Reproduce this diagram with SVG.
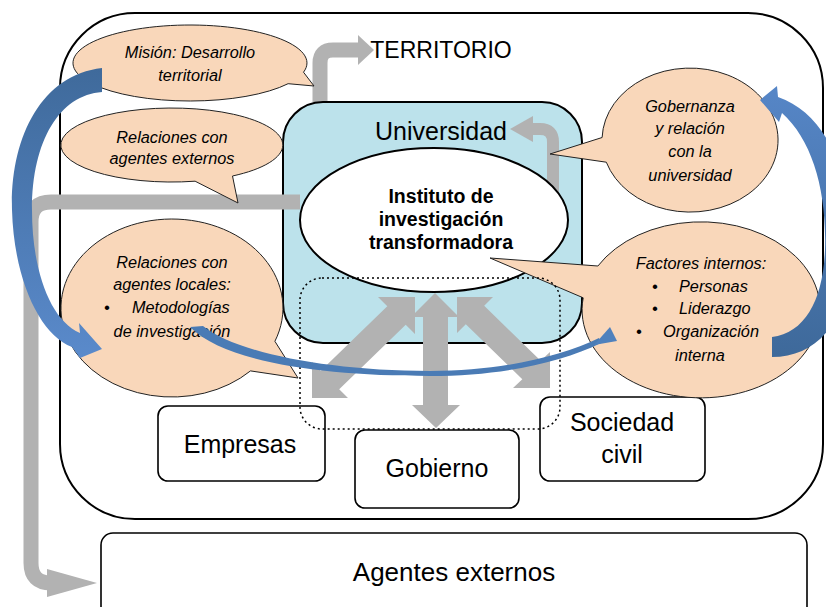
<svg xmlns="http://www.w3.org/2000/svg" width="826" height="607" viewBox="0 0 826 607">
<style>
.box{fill:#fff;stroke:#000;stroke-width:1.6}
.bub{fill:#F9D7BA;stroke:#222;stroke-width:1}
.gr{fill:#B2B2B2}
.grl{fill:none;stroke:#B2B2B2;stroke-width:15}
.t{font-family:"Liberation Sans",Arial,sans-serif;fill:#000}
.big{font-size:25px}
.it{font-size:16.3px;font-style:italic}
.bd{font-size:19.5px;font-weight:bold}
</style>
<defs>
<linearGradient id="bl1" x1="0" y1="0" x2="0" y2="1"><stop offset="0" stop-color="#3F6A9B"/><stop offset="1" stop-color="#5A8ACB"/></linearGradient>
<linearGradient id="bl2" x1="0" y1="1" x2="0" y2="0"><stop offset="0" stop-color="#3E699A"/><stop offset="1" stop-color="#5686C7"/></linearGradient>
</defs>
<g id="territorio">
<rect x="60" y="13" width="763" height="506" rx="75" fill="#fff" stroke="#000" stroke-width="2"/>
<text class="t" x="441" y="58" text-anchor="middle" font-size="23">TERRITORIO</text>
</g>
<g id="connectors-back">
<path class="grl" d="M320,102 L320,63 Q320,50 333,50 L359,50"/>
<polygon class="gr" points="358,35 374,50 358,65"/>
</g>
<g id="universidad">
<rect x="283" y="102" width="299" height="241" rx="40" fill="#BCE2EB" stroke="#000" stroke-width="2"/>
<text class="t big" x="441" y="140" text-anchor="middle">Universidad</text>
</g>
<g id="connectors-uni">
<path d="M553,205 L553,142 Q553,129 540,129 L531,129" fill="none" stroke="#B2B2B2" stroke-width="12"/>
<polygon class="gr" points="533,116 510,129 533,142"/>
</g>
<g id="instituto">
<ellipse cx="434" cy="220" rx="134" ry="72" fill="#fff" stroke="#000" stroke-width="2"/>
<text class="t bd" x="441" y="203" text-anchor="middle">Instituto de</text>
<text class="t bd" x="441" y="226" text-anchor="middle">investigación</text>
<text class="t bd" x="441" y="249" text-anchor="middle">transformadora</text>
</g>
<g id="connectors">
<polygon class="gr" points="415,297 415,334 405.7,324.7 339.2,389.2 348,398 312,398 312,362 320.8,370.8 387.3,306.3 378,297"/>
<polygon class="gr" points="457,297 493,297 484.2,305.8 540.7,360.8 550,352 550,388 513,388 522.3,379.2 465.8,324.2 457,333"/>
<polygon class="gr" points="435,293 459,317 448,317 448,405 460,405 436,428 412,405 423,405 423,317 411,317"/>
<path class="grl" d="M300,202 L51,202 Q31,202 31,222 L31,563 Q31,583 51,583 L50,583"/>
<polygon class="gr" points="47,569 97,583 47,597"/>
</g>
<g id="empresas">
<rect class="box" x="158" y="406" width="167" height="75" rx="10"/>
<text class="t big" x="240" y="453" text-anchor="middle">Empresas</text>
</g>
<g id="gobierno">
<rect class="box" x="355" y="430" width="164" height="78" rx="10"/>
<text class="t big" x="437" y="477" text-anchor="middle">Gobierno</text>
</g>
<g id="sociedad">
<rect class="box" x="540" y="397" width="165" height="84" rx="10"/>
<text class="t big" x="622" y="431" text-anchor="middle">Sociedad</text>
<text class="t big" x="622" y="463" text-anchor="middle">civil</text>
</g>
<g id="agentes">
<rect class="box" x="101" y="533" width="706" height="95" rx="12"/>
<text class="t" x="454" y="581" text-anchor="middle" font-size="26">Agentes externos</text>
</g>
<g id="mision">
<path class="bub" d="M303.5,72.2 A117,38 0 1 0 288.1,83.7 L314,86 Z"/>
<text class="t it" x="190" y="58" text-anchor="middle">Misión: Desarrollo</text>
<text class="t it" x="190" y="81" text-anchor="middle">territorial</text>
</g>
<g id="rel-externos">
<path class="bub" d="M232.5,176 A111,37 0 1 0 195.1,181.2 L238,203 Z"/>
<text class="t it" x="172" y="143" text-anchor="middle">Relaciones con</text>
<text class="t it" x="172" y="164" text-anchor="middle">agentes externos</text>
</g>
<g id="rel-locales">
<path class="bub" d="M274.9,341.3 A111,89 0 1 0 250.5,370.9 L298,378 Z"/>
<text class="t it" x="172" y="268" text-anchor="middle">Relaciones con</text>
<text class="t it" x="172" y="290" text-anchor="middle">agentes locales:</text>
<text class="t it" x="104" y="313">•</text>
<text class="t it" x="132" y="313">Metodologías</text>
<text class="t it" x="172" y="337" text-anchor="middle">de investigación</text>
</g>
<g id="gobernanza">
<path class="bub" d="M606.3,162.2 A88,72 0 1 0 602.1,137.5 L550,154 Z"/>
<text class="t it" x="690" y="112" text-anchor="middle">Gobernanza</text>
<text class="t it" x="690" y="134" text-anchor="middle">y relación</text>
<text class="t it" x="690" y="157" text-anchor="middle">con la</text>
<text class="t it" x="690" y="181" text-anchor="middle">universidad</text>
</g>
<g id="factores">
<path class="bub" d="M583.2,297.8 A119,88 0 1 0 597.9,266 L490,258 Z"/>
<text class="t it" x="701" y="269" text-anchor="middle">Factores internos:</text>
<text class="t it" x="652" y="292">•</text>
<text class="t it" x="679" y="292">Personas</text>
<text class="t it" x="652" y="314">•</text>
<text class="t it" x="679" y="314">Liderazgo</text>
<text class="t it" x="636" y="337">•</text>
<text class="t it" x="663" y="337">Organización</text>
<text class="t it" x="700" y="361" text-anchor="middle">interna</text>
</g>
<g id="dotted">
<rect x="300" y="278" width="260" height="151" rx="22" fill="none" stroke="#000" stroke-width="1.5" stroke-dasharray="2,3"/>
</g>
<g id="blue-connectors">
<path fill="url(#bl1)" d="M102,68 C40,75 10,140 12,210 C14,280 40,335 72,347 L80,358 L102,349 L79,323 L80,333 C50,320 32,270 32,210 C32,140 60,95 102,92 Z"/>
<path fill="url(#bl2)" d="M772,337 C805,333 823,300 825,250 C827,190 812,140 782,113 L779,122 L760,100 L777,86 L778,97 C830,115 852,180 851,250 C850,320 818,357 772,357 Z"/>
<path fill="#4A7BB5" d="M190,327 L203,326 C235,352 325,371 430,371 C500,371 560,357 599,338 L601,343 C560,363 500,376 430,376 C320,376 225,362 190,327 Z"/>
<polygon fill="#4F81BD" points="610,327 617,341 594,345"/>
</g>
</svg>
